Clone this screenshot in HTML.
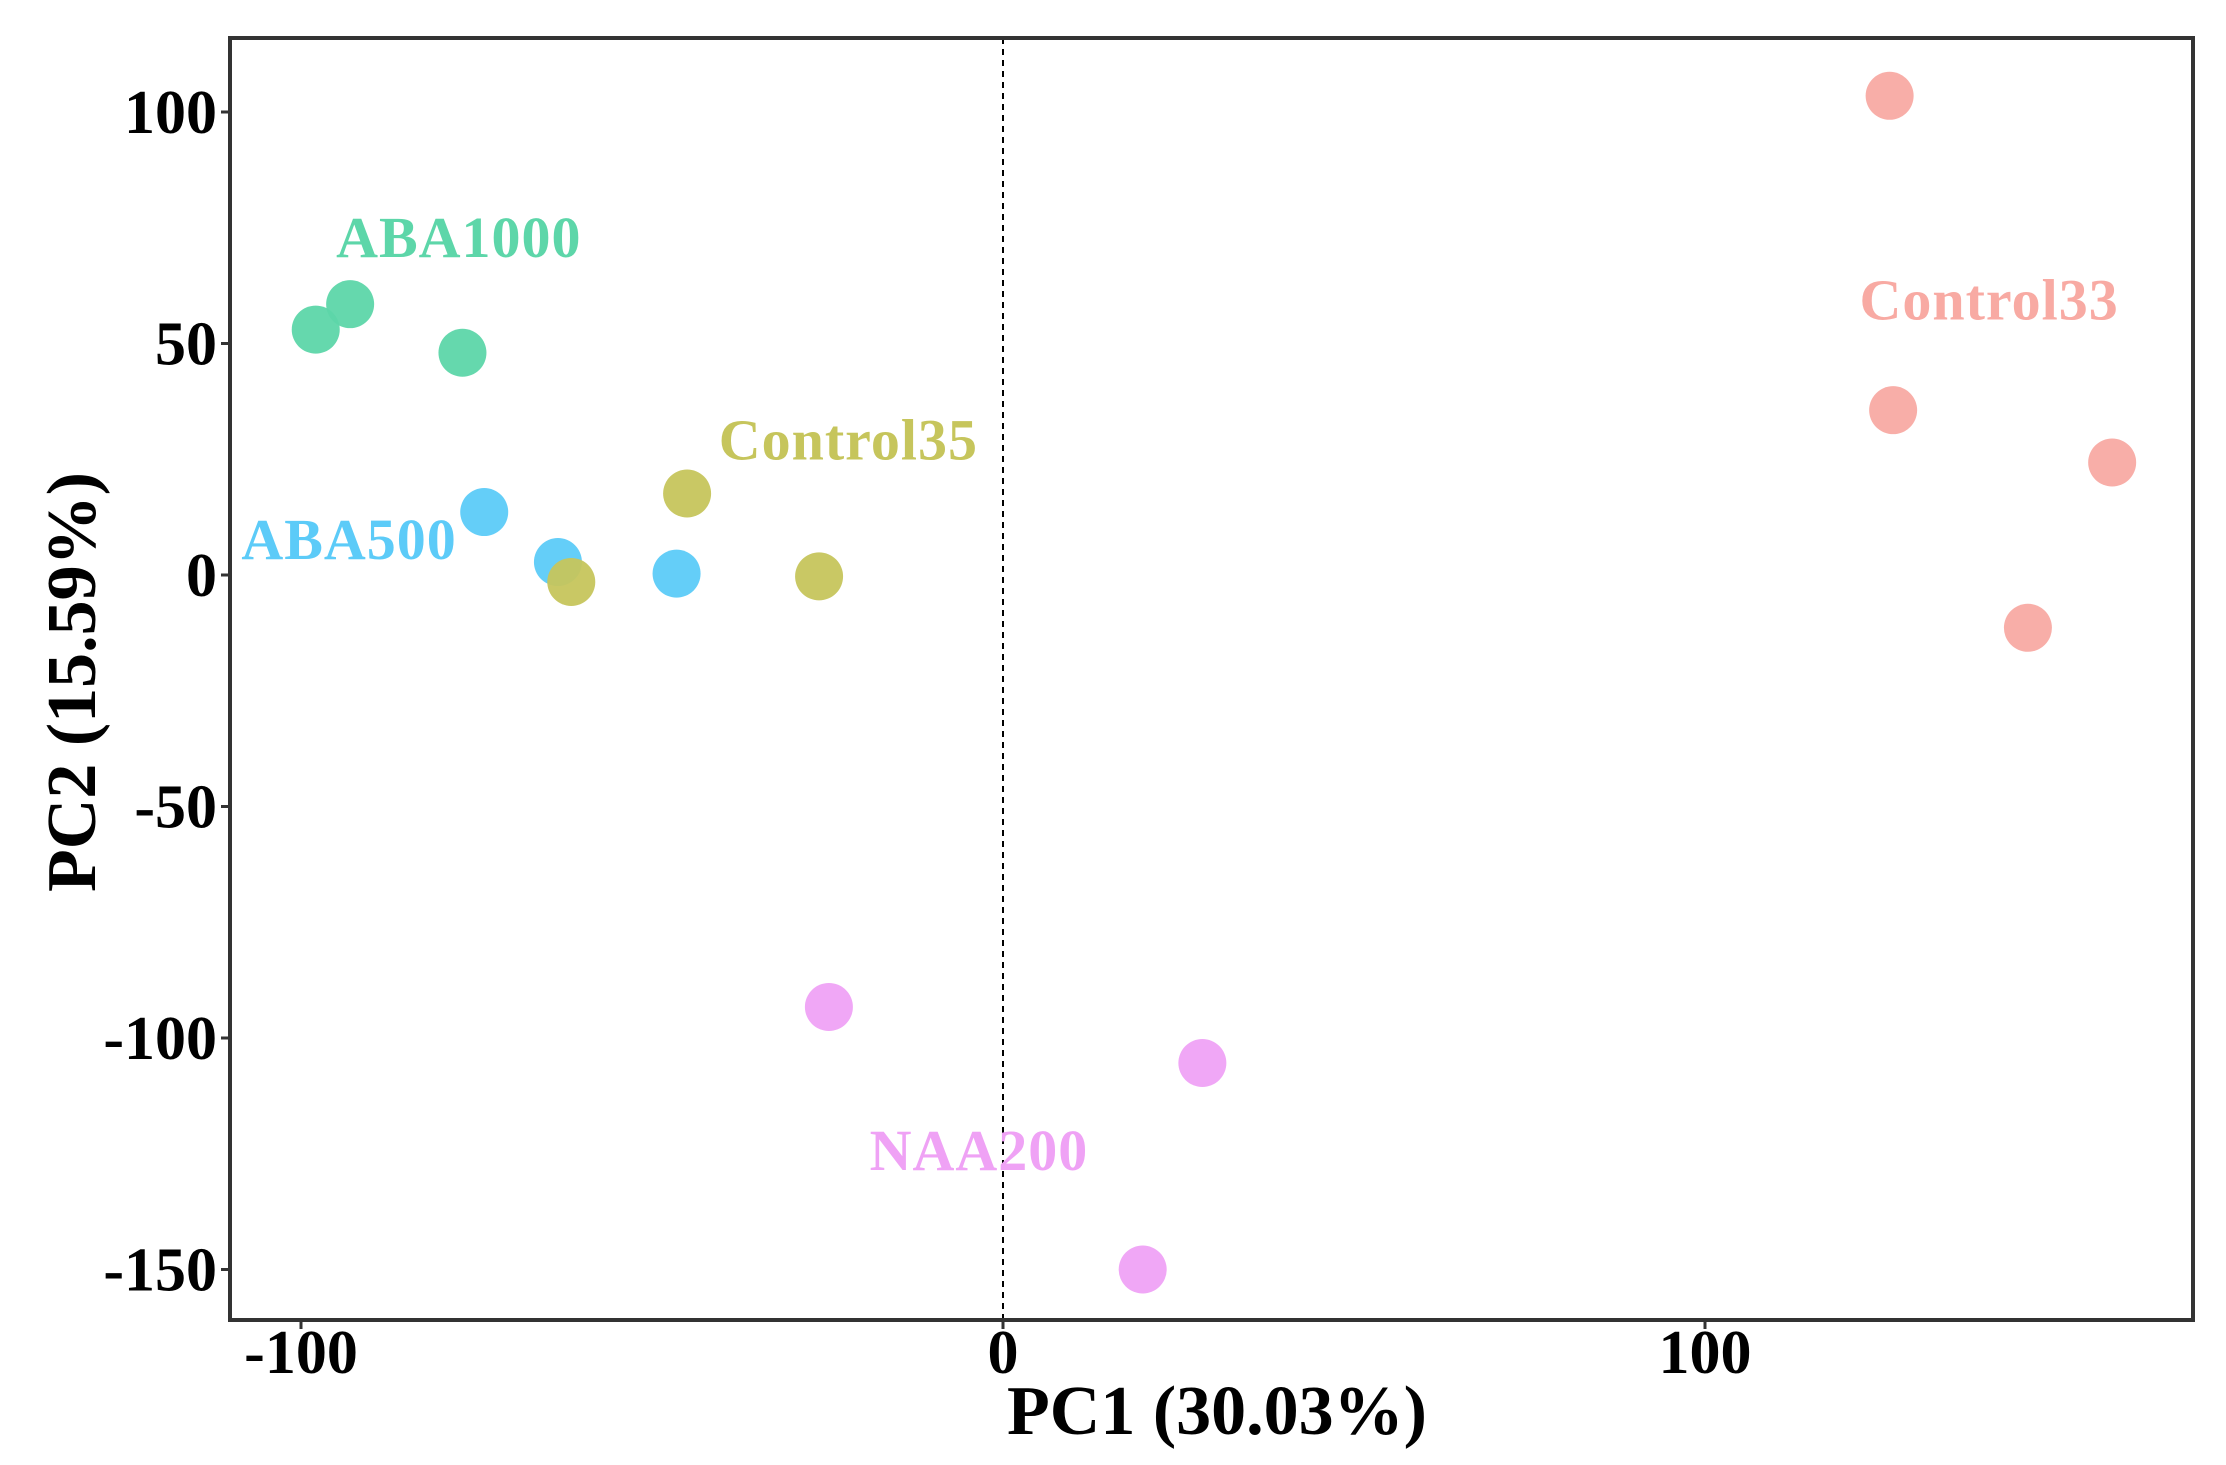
<!DOCTYPE html>
<html><head><meta charset="utf-8"><style>
html,body{margin:0;padding:0;background:#fff;}
svg{display:block;font-family:"Liberation Serif",serif;font-weight:bold;}
</style></head><body>
<svg id="chart" width="2226" height="1465" viewBox="0 0 2226 1465" xmlns="http://www.w3.org/2000/svg">
<g id="marks"></g>
<g id="axes"></g>
</svg>
<script>
const groupNames = ["ABA1000","ABA500","Control35","NAA200","Control33"];
const groupColors = ["#5dd6a9","#5ccbf8","#c6c55c","#efa2f5","#f8aaa3"];
const pc1ABA1000 = [-97.9,-93,-77];
const pc2ABA1000 = [53,58.5,48];
const pc1ABA500 = [-73.9,-63.4,-46.5];
const pc2ABA500 = [13.6,2.8,0.3];
const pc1Control35 = [-45,-61.5,-26.2];
const pc2Control35 = [17.6,-1.5,-0.3];
const pc1NAA200 = [-24.8,28.4,19.9];
const pc2NAA200 = [-93.3,-105.4,-150];
const pc1Control33 = [126.3,126.8,158,146];
const pc2Control33 = [103.5,35.6,24.3,-11.4];
const labelX = [-95,-108.5,-40.5,-19,122];
const labelY = [68.7,3.5,25,-128.5,55.2];
const xTicks = [-100,0,100];
const yTicks = [100,50,0,-50,-100,-150];

const L=230,R=2193,T=38,B=1320;
const sx=v=>1003+v*7.02;
const sy=v=>575-v*4.63;
const NS="http://www.w3.org/2000/svg";
const marks=document.getElementById('marks'), axes=document.getElementById('axes');
function mk(tag,attrs,parent){const e=document.createElementNS(NS,tag);for(const k in attrs)e.setAttribute(k,attrs[k]);parent.appendChild(e);return e;}

let e=mk('line',{x1:sx(0),x2:sx(0),y1:T,y2:B,stroke:'#000','stroke-width':2,'stroke-dasharray':'6,5'},marks);



const xs=[pc1ABA1000,pc1ABA500,pc1Control35,pc1NAA200,pc1Control33];
const ys=[pc2ABA1000,pc2ABA500,pc2Control35,pc2NAA200,pc2Control33];
for(let g=0;g<groupNames.length;g++){
  for(let i=0;i<xs[g].length;i++){
    const c=mk('circle',{cx:sx(xs[g][i]),cy:sy(ys[g][i]),r:24,fill:groupColors[g],'fill-opacity':0.95},marks);
    
    
  }
  const t=mk('text',{x:sx(labelX[g]),y:sy(labelY[g]),fill:groupColors[g],'font-size':58,'letter-spacing':1},marks);
  t.textContent=groupNames[g];
  
  
}

e=mk('rect',{x:L,y:T,width:R-L,height:B-T,fill:'none',stroke:'#333','stroke-width':4},axes);



xTicks.forEach(v=>{
  const tk=mk('line',{x1:sx(v),x2:sx(v),y1:B,y2:B+9,stroke:'#333','stroke-width':3},axes);
  
  
  const t=mk('text',{x:sx(v),y:1373,'text-anchor':'middle','font-size':62,fill:'#000'},axes);
  t.textContent=v;
  
  
});
yTicks.forEach(v=>{
  const tk=mk('line',{x1:L-9,x2:L,y1:sy(v),y2:sy(v),stroke:'#333','stroke-width':3},axes);
  
  
  const t=mk('text',{x:217,y:sy(v)+21,'text-anchor':'end','font-size':62,fill:'#000'},axes);
  t.textContent=v;
  
  
});
e=mk('text',{x:1217,y:1434,'text-anchor':'middle','font-size':70,fill:'#000'},axes);
e.textContent='PC1 (30.03%)';


e=mk('text',{x:0,y:0,'text-anchor':'middle','font-size':70,fill:'#000',transform:'translate(95,682) rotate(-90)'},axes);
e.textContent='PC2 (15.59%)';


</script>
</body></html>
